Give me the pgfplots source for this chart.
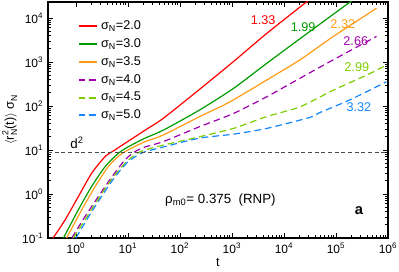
\documentclass[border=0pt]{standalone}
\usepackage{fontspec}
\setmainfont{Liberation Sans}
\usepackage{pgfplots}
\pgfplotsset{compat=1.18}
\definecolor{cred}{RGB}{255,0,0}
\definecolor{cgreen}{RGB}{0,155,0}
\definecolor{corange}{RGB}{255,155,20}
\definecolor{cpurple}{RGB}{160,0,170}
\definecolor{clgreen}{RGB}{125,205,0}
\definecolor{cblue}{RGB}{20,135,255}
\begin{document}
\begin{tikzpicture}
\begin{axis}[
  xmode=log, ymode=log,
  scale only axis, width=255pt, height=177pt,
  xmin=0.29, xmax=1e6, ymin=0.1, ymax=2.3e4,
  xtick={1,10,100,1000,10000,100000,1000000},
  xticklabels={10\textsuperscript{0},10\textsuperscript{1},10\textsuperscript{2},10\textsuperscript{3},10\textsuperscript{4},10\textsuperscript{5},10\textsuperscript{6}},
  ytick={0.1,1,10,100,1000,10000},
  yticklabels={10\textsuperscript{-1},10\textsuperscript{0},10\textsuperscript{1},10\textsuperscript{2},10\textsuperscript{3},10\textsuperscript{4}},
  tick label style={font=\fontsize{9}{10}\selectfont},
  major tick length=4pt, minor tick length=2pt,
  tick style={black, line width=0.5pt},
  axis line style={line width=0.8pt},
  xlabel={t}, ylabel={$\langle$r\rlap{\raisebox{0.85ex}{\fontsize{6.5}{7}\selectfont 2}}\raisebox{-0.45ex}{\fontsize{6.5}{7}\selectfont N}(t)$\rangle$ σ\raisebox{-0.45ex}{\fontsize{6.5}{7}\selectfont N}},
  label style={font=\fontsize{9.5}{10}\selectfont},
  xlabel style={yshift=3pt},
  ylabel style={yshift=-3pt},
  legend style={at={(0.075,0.943)}, anchor=north west, draw=none, fill=none,
    font=\fontsize{9.5}{10}\selectfont, row sep=1.2pt},
  legend cell align=left,
  legend image code/.code={\draw[#1, line width=1.5pt] (0pt,0pt) -- (14pt,0pt);},
  every axis plot/.append style={line width=0.9pt},
  clip=true
]
\addplot[cred, smooth, tension=0.4] coordinates {(0.363,0.1) (0.617,0.257) (1.11,0.871) (2.0,2.95) (3.63,7.08) (5.62,10) (8.71,14.1) (21.4,28.2) (47.9,52.5) (240,240) (1072,1023) (4677,4467) (27542,23442) (40000,33000)};
\addlegendentry{σ\textsubscript{N}=2.0}
\addplot[cgreen, smooth, tension=0.4] coordinates {(0.575,0.1) (1.11,0.437) (2.0,1.48) (3.63,4.17) (6.46,8.32) (10,11.7) (21.4,18.6) (47.9,28.2) (240,81.3) (1072,251) (4677,933) (20417,3388) (190546,23442) (250000,30000)};
\addlegendentry{σ\textsubscript{N}=3.0}
\addplot[corange, smooth, tension=0.4] coordinates {(0.661,0.1) (1.29,0.437) (2.34,1.48) (4.17,4.17) (7.08,7.76) (11.7,11.0) (21.4,15.5) (47.9,21.9) (240,57.5) (589,95) (1072,138) (4677,389) (20417,1122) (89125,3802) (602560,16596)};
\addlegendentry{σ\textsubscript{N}=3.5}
\addplot[cpurple, dash pattern=on 5pt off 3pt, smooth, tension=0.4] coordinates {(0.832,0.1) (1.48,0.302) (2.69,0.871) (4.9,2.45) (8.71,5.89) (13.5,9.12) (21.4,11.7) (47.9,15.5) (240,33.9) (1072,67.6) (4677,162) (20417,427) (89125,1122) (602560,3802)};
\addlegendentry{σ\textsubscript{N}=4.0}
\addplot[clgreen, dash pattern=on 5pt off 3pt, smooth, tension=0.4] coordinates {(0.891,0.1) (1.62,0.302) (2.88,0.871) (5.25,2.45) (9.33,5.37) (14.8,8.32) (21.4,10) (47.9,12.9) (240,20) (1072,30.9) (4677,57.5) (20417,95.5) (89125,229) (389045,501) (933254,851)};
\addlegendentry{σ\textsubscript{N}=4.5}
\addplot[cblue, dash pattern=on 5pt off 3pt, smooth, tension=0.4] coordinates {(1,0.1) (1.74,0.302) (3.09,0.871) (5.62,2.45) (10,5.37) (15.8,7.76) (21.4,9.12) (47.9,11.7) (240,18.6) (1072,22.9) (4677,30.9) (31623,55) (48978,70.8) (186209,138) (933254,355)};
\addlegendentry{σ\textsubscript{N}=5.0}
\addplot[black!70, line width=0.6pt, dash pattern=on 3pt off 2pt, forget plot] coordinates {(0.29,9) (1000000,9)};
\node[cred, font=\fontsize{9.5}{10}\selectfont] at (axis cs:3980,8900) {1.33};
\node[cgreen, font=\fontsize{9.5}{10}\selectfont] at (axis cs:23400,6300) {1.99};
\node[corange, font=\fontsize{9.5}{10}\selectfont] at (axis cs:135000,7300) {2.32};
\node[cpurple, font=\fontsize{9.5}{10}\selectfont] at (axis cs:240000,3000) {2.66};
\node[clgreen, font=\fontsize{9.5}{10}\selectfont] at (axis cs:251000,776) {2.99};
\node[cblue, font=\fontsize{9.5}{10}\selectfont] at (axis cs:275000,95) {3.32};
\node[font=\fontsize{10}{11}\selectfont] at (axis cs:1.05,14.4) {d\textsuperscript{2}};
\node[font=\fontsize{10}{11}\selectfont] at (axis cs:600,0.73) {ρ\textsubscript{m0}= 0.375\ \ (RNP)};
\node[font=\fontsize{11}{12}\selectfont\bfseries] at (axis cs:275000,0.41) {a};
\end{axis}
\pgfresetboundingbox
\path ([xshift=-36pt,yshift=-24.75pt]current axis.south west) rectangle ([xshift=8.25pt,yshift=1.5pt]current axis.north east);
\end{tikzpicture}
\end{document}
